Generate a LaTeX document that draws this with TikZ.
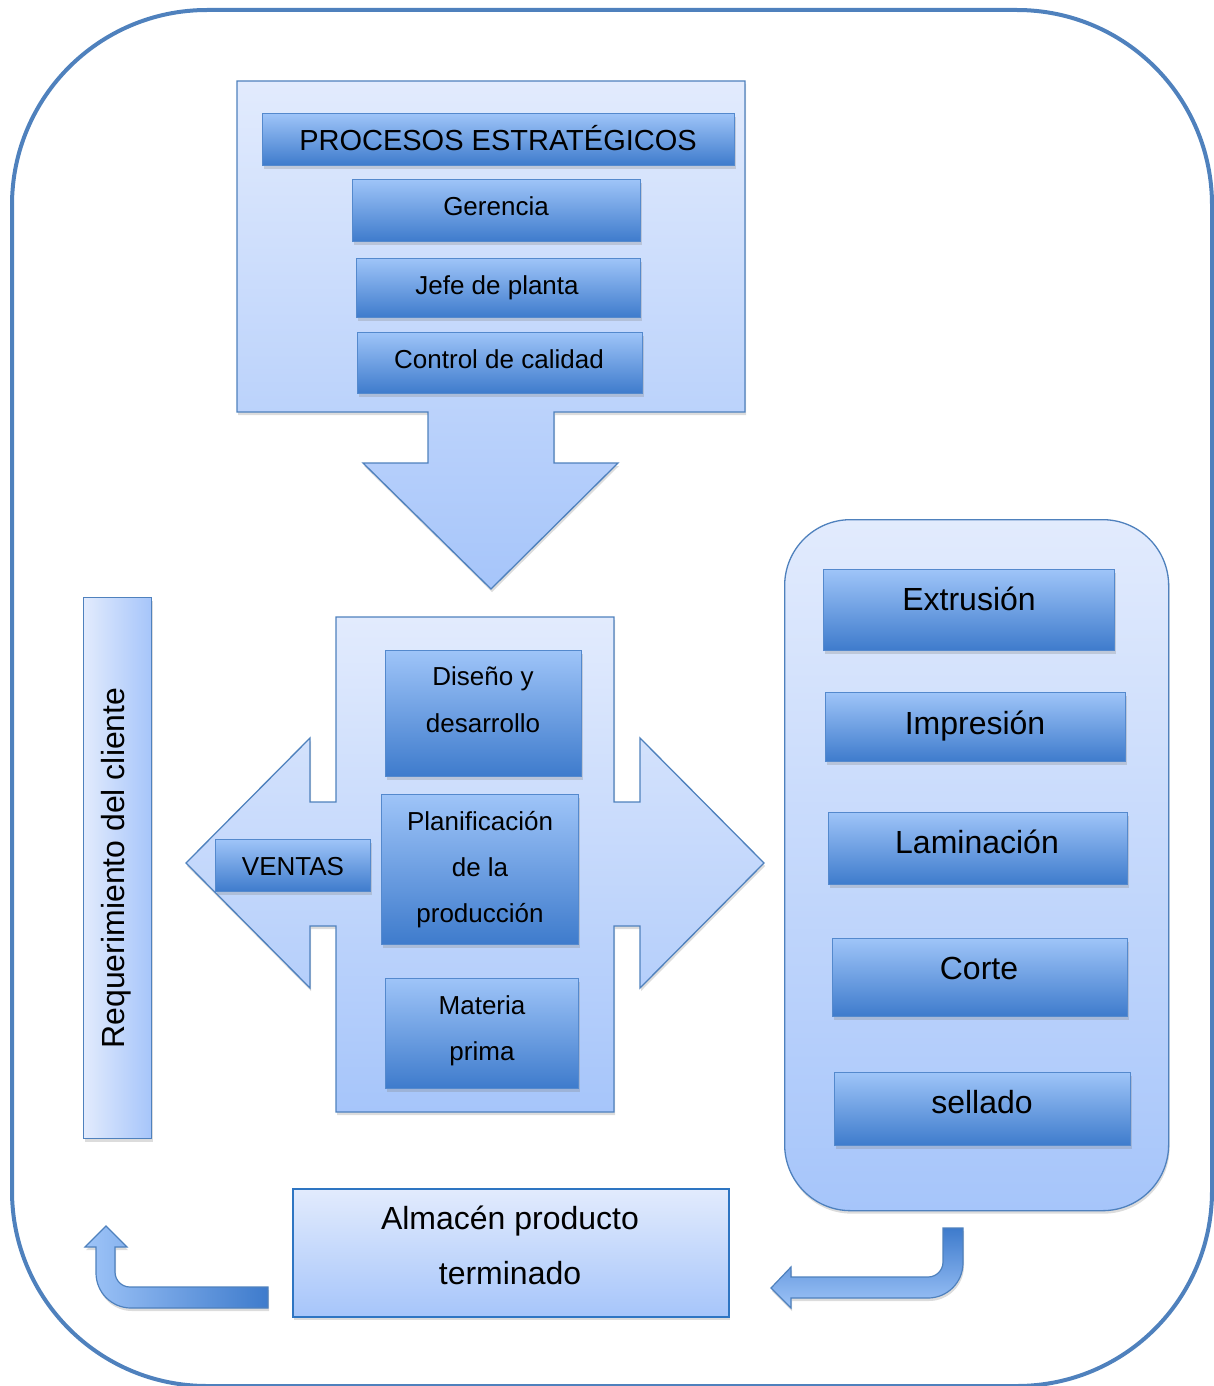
\documentclass[tikz,border=0pt]{standalone}
\usepackage{fontspec}
\setmainfont{Liberation Sans}
\usepackage{graphicx}
\usetikzlibrary{shadows,calc}
\definecolor{lightTop}{RGB}{226,235,253}
\definecolor{lightBot}{RGB}{166,197,250}
\definecolor{darkTop}{RGB}{158,196,248}
\definecolor{darkBot}{RGB}{62,123,204}
\definecolor{edge}{RGB}{79,129,189}
\definecolor{boxline}{RGB}{84,137,205}
\definecolor{almline}{RGB}{46,117,194}
\begin{document}
\begin{tikzpicture}[x=1pt,y=-1pt,
  shad/.style={drop shadow={opacity=0.28,shadow xshift=1pt,shadow yshift=-3pt}},
  darkbox/.style={draw=boxline,line width=1.2pt,top color=darkTop,bottom color=darkBot,
    shad,anchor=north west,inner sep=0pt},
  callout/.style={draw=edge,line width=1.3pt,top color=lightTop,bottom color=lightBot,shad},
  bentarrow/.style={draw=edge,line width=1.2pt,shad},
  f26/.style={font=\fontsize{26}{30}\selectfont,inner sep=0pt,anchor=base},
  f29/.style={font=\fontsize{29}{33}\selectfont,inner sep=0pt,anchor=base},
  f32/.style={font=\fontsize{32}{36}\selectfont,inner sep=0pt,anchor=base}]
\useasboundingbox (0,0) rectangle (1213,1386);
% outer frame
\node[draw=edge,line width=4pt,rounded corners=195pt,minimum width=1200pt,minimum height=1376pt,
  inner sep=0pt,anchor=north west] (frame) at (10,8) {};
% top callout (down arrow)
\draw[callout] (237,81) -- (745,81) -- (745,412) -- (554,412) -- (554,463) -- (618,463)
  -- (491,589) -- (363,463) -- (428,463) -- (428,412) -- (237,412) -- cycle;
\node[darkbox,minimum width=472pt,minimum height=52pt] (proc) at (262,113) {};
\node[darkbox,minimum width=288pt,minimum height=62pt] (ger) at (352,179) {};
\node[darkbox,minimum width=284pt,minimum height=59pt] (jefe) at (356,258) {};
\node[darkbox,minimum width=285pt,minimum height=61pt] (ctrl) at (357,332) {};
\node[f29] (tproc) at (498,150) {PROCESOS ESTRATÉGICOS};
\node[f26] (tger) at (496,215) {Gerencia};
\node[f26] (tjefe) at (497,294) {Jefe de planta};
\node[f26] (tctrl) at (499,368) {Control de calidad};
% middle callout (left-right arrow)
\draw[callout] (336,617) -- (614,617) -- (614,802) -- (640,802) -- (640,738) -- (764,863)
  -- (640,988) -- (640,926) -- (614,926) -- (614,1112) -- (336,1112) -- (336,926)
  -- (310,926) -- (310,988) -- (186,863) -- (310,738) -- (310,802) -- (336,802) -- cycle;
\node[darkbox,minimum width=196pt,minimum height=126pt] (dis) at (385,650) {};
\node[darkbox,minimum width=197pt,minimum height=150pt] (plan) at (381,794) {};
\node[darkbox,minimum width=155pt,minimum height=52pt] (ven) at (215,839) {};
\node[darkbox,minimum width=193pt,minimum height=110pt] (mat) at (385,978) {};
\node[f26] (tdis1) at (483,685) {Diseño y};
\node[f26] (tdis2) at (483,732) {desarrollo};
\node[f26] (tplan1) at (480,830) {Planificación};
\node[f26] (tplan2) at (480,876) {de la};
\node[f26] (tplan3) at (480,922) {producción};
\node[f26] (tmat1) at (482,1014) {Materia};
\node[f26] (tmat2) at (482,1060) {prima};
\node[f26] (tven) at (293,875) {VENTAS};
% right panel
\node[draw=edge,line width=1.3pt,rounded corners=66pt,top color=lightTop,bottom color=lightBot,shad,
  minimum width=384pt,minimum height=691pt,inner sep=0pt,anchor=north west] (panel) at (784,519) {};
\node[darkbox,minimum width=291pt,minimum height=81pt] (ext) at (823,569) {};
\node[darkbox,minimum width=300pt,minimum height=69pt] (imp) at (825,692) {};
\node[darkbox,minimum width=299pt,minimum height=72pt] (lam) at (828,812) {};
\node[darkbox,minimum width=295pt,minimum height=78pt] (cor) at (832,938) {};
\node[darkbox,minimum width=296pt,minimum height=73pt] (sel) at (834,1072) {};
\node[f32] (text) at (969,610) {Extrusión};
\node[f32] (timp) at (975,734) {Impresión};
\node[f32] (tlam) at (977,853) {Laminación};
\node[f32] (tcor) at (979,979) {Corte};
\node[f32] (tsel) at (982,1113) {sellado};
% requerimiento
\node[draw=edge,line width=1.3pt,left color=lightTop,right color=lightBot,shad,
  minimum width=68pt,minimum height=541pt,inner sep=0pt,anchor=north west] (req) at (83,597) {};
\node[f32,rotate=90] (treq) at (124.5,868) {Requerimiento del cliente};
% almacen
\node[draw=almline,line width=2pt,top color=lightTop,bottom color=lightBot,shad,
  minimum width=436pt,minimum height=128pt,inner sep=0pt,anchor=north west] (alm) at (292,1188) {};
\node[f32] (talm1) at (510,1229) {Almacén producto};
\node[f32] (talm2) at (510,1284) {terminado};
% bent arrow left (up)
\draw[bentarrow,left color=darkTop,right color=darkBot]
  (268,1287) -- (130,1287) arc[start angle=270,end angle=180,radius=15pt]
  -- (115,1247) -- (127,1247) -- (106,1226) -- (85,1247) -- (96,1247) -- (96,1273)
  arc[start angle=180,end angle=270,radius=35pt] -- (268,1308) -- cycle;
% bent arrow right (down-left)
\draw[bentarrow,top color=darkBot,bottom color=darkTop]
  (943,1228) -- (963,1228) -- (963,1263) arc[start angle=0,end angle=-90,radius=35pt]
  -- (791,1298) -- (791,1308) -- (771,1288) -- (791,1267) -- (791,1277) -- (928,1277)
  arc[start angle=-90,end angle=0,radius=15pt] -- cycle;
\end{tikzpicture}
\end{document}
